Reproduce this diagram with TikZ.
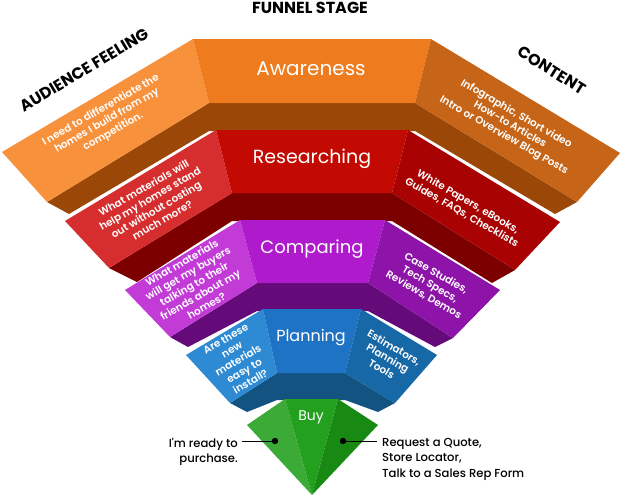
\documentclass[tikz,border=0pt]{standalone}
\usepackage{fontspec}
\setmainfont{Poppins}
\newfontfamily\medfont{Poppins Medium}
\newfontfamily\semifont{Poppins SemiBold}
\usepackage{xcolor}
\usetikzlibrary{positioning}
% tier colours: light (left), mid (centre), dark (right), band (thickness)
\definecolor{awL}{HTML}{F7913C}
\definecolor{awC}{HTML}{EE7B1E}
\definecolor{awR}{HTML}{C66518}
\definecolor{awB}{HTML}{9A4708}
\definecolor{reL}{HTML}{D62E2F}
\definecolor{reC}{HTML}{C30A02}
\definecolor{reR}{HTML}{A80302}
\definecolor{reB}{HTML}{7C0000}
\definecolor{coL}{HTML}{C23BD7}
\definecolor{coC}{HTML}{AE1ACC}
\definecolor{coR}{HTML}{8D13A9}
\definecolor{coB}{HTML}{640A79}
\definecolor{plL}{HTML}{2E8AD2}
\definecolor{plC}{HTML}{1F73C5}
\definecolor{plR}{HTML}{1768A6}
\definecolor{plB}{HTML}{135382}
\definecolor{buL}{HTML}{3BAA36}
\definecolor{buC}{HTML}{24A01F}
\definecolor{buR}{HTML}{188A14}
\tikzset{
  stage/.style={text=white, font=\fontsize{#1}{#1}\selectfont, inner sep=0pt},
  feel/.style={text=white, font=\fontsize{10.4}{12.4}\selectfont\semifont,
               align=center, inner sep=0pt, rotate=30},
  cont/.style={text=white, font=\fontsize{10.4}{12.4}\selectfont\semifont,
               align=center, inner sep=0pt, rotate=-30},
  head/.style={font=\fontsize{16}{18}\selectfont\bfseries, inner sep=0pt},
  note/.style={font=\fontsize{11.6}{15.5}\selectfont\medfont, inner sep=0pt},
  pin/.style={line width=1pt, draw=black},
}
\begin{document}
\begin{tikzpicture}[x=1pt, y=-1pt]
  \useasboundingbox (0,0) rectangle (621,496);

  % Awareness
  \fill[awB] (47,202) -- (209,103) -- (415,103) -- (577,202) -- (555,214)
             -- (415,131) -- (209,131) -- (69,214) -- cycle;
  \fill[awL] (193,39) -- (2,152) -- (47,202) -- (209,103) -- cycle;
  \fill[awC] (193,39) -- (431,39) -- (415,103) -- (209,103) -- cycle;
  \fill[awR] (431,39) -- (620,153) -- (577,202) -- (415,103) -- cycle;

  % Researching
  \fill[reB] (109,268) -- (232,193) -- (392,193) -- (515,270) -- (492,283)
             -- (392,221) -- (232,221) -- (137,282) -- cycle;
  \fill[reL] (216,130) -- (65,221) -- (109,268) -- (232,193) -- cycle;
  \fill[reC] (216,130) -- (408,130) -- (392,193) -- (232,193) -- cycle;
  \fill[reR] (408,130) -- (560,222) -- (515,270) -- (392,193) -- cycle;

  % Comparing
  \fill[coB] (170,337) -- (257,283) -- (368,283) -- (453,338) -- (435,347)
             -- (368,311) -- (257,311) -- (188,347) -- cycle;
  \fill[coL] (240,220) -- (125,290) -- (170,337) -- (257,283) -- cycle;
  \fill[coC] (240,220) -- (385,220) -- (368,283) -- (257,283) -- cycle;
  \fill[coR] (385,220) -- (500,290) -- (453,338) -- (368,283) -- cycle;

  % Planning
  \fill[plB] (230,403) -- (277,373) -- (345,373) -- (395,403) -- (378,412)
             -- (345,400) -- (277,400) -- (247,412) -- cycle;
  \fill[plL] (263,309) -- (186,355) -- (230,403) -- (277,373) -- cycle;
  \fill[plC] (263,309) -- (361,309) -- (345,373) -- (277,373) -- cycle;
  \fill[plR] (361,309) -- (437,355) -- (395,403) -- (345,373) -- cycle;

  % Buy
  \fill[buL] (285,399) -- (247,425) -- (312,495) -- cycle;
  \fill[buC] (285,399) -- (338,399) -- (312,495) -- cycle;
  \fill[buR] (338,399) -- (378,425) -- (312,495) -- cycle;

  % headings
  \node[head] (hstage) at (310,8) {FUNNEL STAGE};
  \node[head, rotate=31] (hfeel) at (84,70) {AUDIENCE FEELING};
  \node[head, rotate=-32] (hcont) at (552,70) {CONTENT};

  % stage names
  \node[stage=20] (aware) at (311,69) {Awareness};
  \node[stage=19] (research) at (312,159) {Researching};
  \node[stage=18] (compare) at (312,249) {Comparing};
  \node[stage=16] (plan) at (311,338) {Planning};
  \node[stage=14] (buy) at (311,417) {Buy};

  % audience feeling
  \node[feel] (feel1) at (107,121) {I need to differentiate the\\homes I build from my\\competition.};
  \node[feel] (feel2) at (153,204) {What materials will\\help my homes stand\\out without costing\\much more?};
  \node[feel] (feel3) at (194,284) {What materials\\will get my buyers\\talking to their\\friends about my\\homes?};
  \node[feel] (feel4) at (238,360) {Are these\\new\\materials\\easy to\\install?};

  % content
  \node[cont] (cont1) at (510,125) {Infographic, Short video\\How-to Articles\\Intro or Overview Blog Posts};
  \node[cont] (cont2) at (465,207) {White Papers, eBooks,\\Guides, FAQs, Checklists};
  \node[cont] (cont3) at (430,284) {Case Studies,\\Tech Specs,\\Reviews, Demos};
  \node[cont] (cont4) at (388,358) {Estimators,\\Planning\\Tools};

  % buy notes
  \coordinate (dotL) at (275,441);
  \coordinate (dotR) at (343,441);
  \coordinate (tipL) at (242,441);
  \coordinate (tipR) at (377,441);
  \node[note, anchor=north east, align=right] (feel5) at (238,438) {I'm ready to\\purchase.};
  \node[note, anchor=north west, align=left] (cont5) at (382,438) {Request a Quote,\\Store Locator,\\Talk to a Sales Rep Form};
  \draw[pin] (tipL) -- (dotL);
  \draw[pin] (dotR) -- (tipR);
  \fill (dotL) circle (3.2);
  \fill (dotR) circle (3.2);
\end{tikzpicture}
\end{document}
